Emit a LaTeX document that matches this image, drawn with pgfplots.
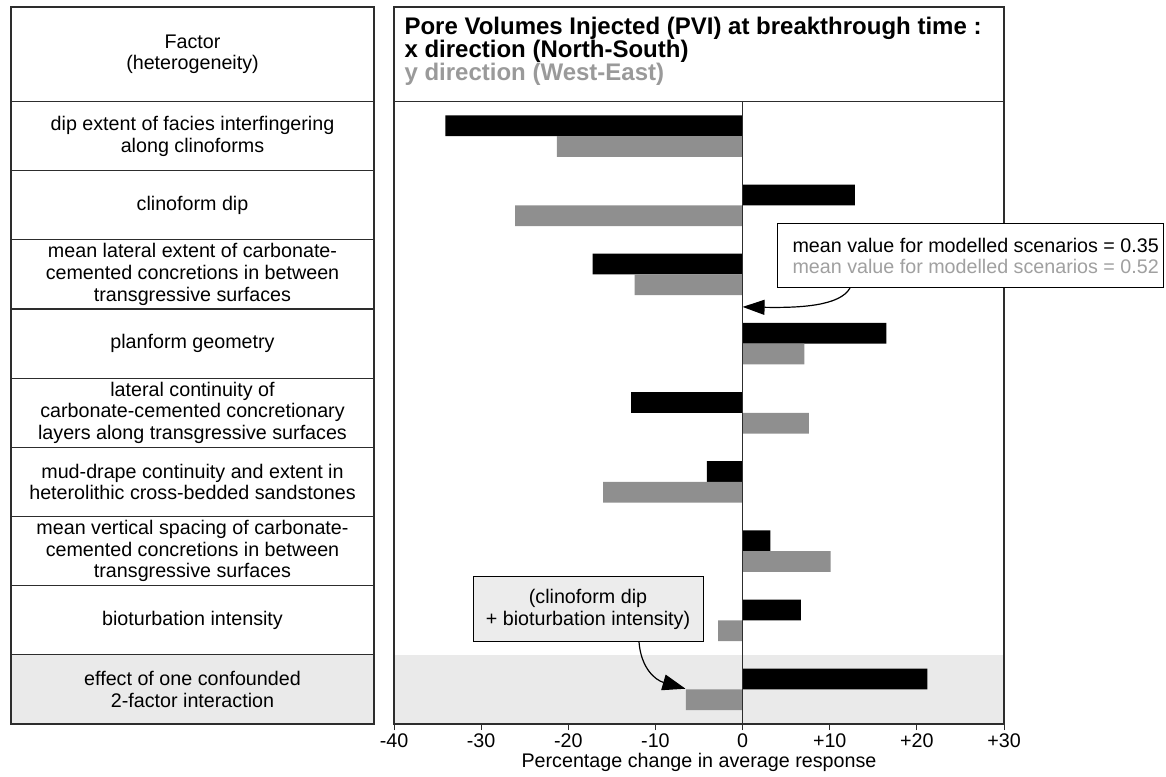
\documentclass[border=0pt]{standalone}
\usepackage{fontspec}
\setmainfont{Liberation Sans}
\usepackage{pgfplots}
\pgfplotsset{compat=1.18}
\usetikzlibrary{arrows.meta}
\definecolor{bargray}{RGB}{143,143,143}
\definecolor{titlegray}{RGB}{154,154,154}
\definecolor{meangray}{RGB}{160,160,160}
\definecolor{bandgray}{RGB}{234,234,234}
\definecolor{boxgray}{RGB}{236,236,236}
\definecolor{linegray}{RGB}{45,45,45}
\newcommand{\fs}{\fontsize{19.7}{21.7}\selectfont}
\begin{document}
\begin{tikzpicture}[x=1pt,y=1pt,font=\fs]
\path[use as bounding box] (0,0) rectangle (1166,776);
% ---- left table ----
\fill[bandgray] (11,52) rectangle (374,121.17);
\draw[linegray, line width=1.1pt] (11,52) rectangle (374,769);
\foreach \k in {0,...,8} \draw[linegray, line width=1.1pt] (11,{674.5-\k*69.17}) -- (374,{674.5-\k*69.17});
\node[align=center] at (192.5,721.75) {Factor\\(heterogeneity)};
\node[align=center] at (192.5,{674.5-0.5*69.17}) {dip extent of facies interfingering\\along clinoforms};
\node[align=center] at (192.5,{674.5-1.5*69.17}) {clinoform dip};
\node[align=center] at (192.5,{674.5-2.5*69.17}) {mean lateral extent of carbonate-\\cemented concretions in between\\transgressive surfaces};
\node[align=center] at (192.5,{674.5-3.5*69.17}) {planform geometry};
\node[align=center] at (192.5,{674.5-4.5*69.17}) {lateral continuity of\\carbonate-cemented concretionary\\layers along transgressive surfaces};
\node[align=center] at (192.5,{674.5-5.5*69.17}) {mud-drape continuity and extent in\\heterolithic cross-bedded sandstones};
\node[align=center] at (192.5,{674.5-6.5*69.17}) {mean vertical spacing of carbonate-\\cemented concretions in between\\transgressive surfaces};
\node[align=center] at (192.5,{674.5-7.5*69.17}) {bioturbation intensity};
\node[align=center] at (192.5,{674.5-8.5*69.17}) {effect of one confounded\\2-factor interaction};
% ---- title box ----
\draw[linegray, line width=1.1pt] (394,674.5) -- (394,769) -- (1004,769) -- (1004,674.5);
\node[anchor=base west, font=\fontsize{24}{23}\selectfont\bfseries] at (401,741) {Pore Volumes Injected (PVI) at breakthrough time :};
\node[anchor=base west, font=\fontsize{24}{23}\selectfont\bfseries] at (401,718) {x direction (North-South)};
\node[anchor=base west, font=\fontsize{24}{23}\selectfont\bfseries, text=titlegray] at (401,695) {y direction (West-East)};
% ---- chart ----
\begin{axis}[
  at={(394pt,52pt)}, anchor=south west, scale only axis,
  width=610pt, height=622.5pt,
  xmin=-40, xmax=30, ymin=0, ymax=9, y dir=reverse,
  axis on top,
  axis line style={linegray, line width=1.1pt},
  xtick={-40,-30,-20,-10,0,10,20,30},
  xticklabels={-40,-30,-20,-10,0,+10,+20,+30},
  ytick=\empty, xtick pos=bottom, tick align=outside,
  major tick length=6pt, tick style={linegray, line width=1pt},
  ticklabel style={font=\fs},
  xlabel={Percentage change in average response},
  xlabel style={font=\fs, yshift=1pt},
]
\addplot[fill=bandgray, draw=none] coordinates {(-40,8) (30,8) (30,9) (-40,9)} -- cycle;
% x direction (North-South)
\addplot[xbar, bar width=0.3, bar shift=0pt, fill=black, draw=none] coordinates {
 (-34.1,0.35) (12.9,1.35) (-17.2,2.35) (16.5,3.35) (-12.8,4.35) (-4.1,5.35) (3.2,6.35) (6.7,7.35) (21.2,8.35)};
% y direction (West-East)
\addplot[xbar, bar width=0.3, bar shift=0pt, fill=bargray, draw=none] coordinates {
 (-21.3,0.65) (-26.1,1.65) (-12.4,2.65) (7.1,3.65) (7.6,4.65) (-16.0,5.65) (10.1,6.65) (-2.8,7.65) (-6.5,8.65)};
\addplot[linegray, line width=1pt] coordinates {(0,0) (0,9)};
\coordinate (tipA) at (axis cs:0,2.97);
\coordinate (tipB) at (axis cs:-6.55,8.49);
\end{axis}
% ---- annotations ----
\draw[black, line width=1pt, fill=white] (777,488) rectangle (1163,552);
\node[anchor=west, align=left] at (789,520) {mean value for modelled scenarios = 0.35\\\textcolor{meangray}{mean value for modelled scenarios = 0.52}};
\draw[black, line width=1.2pt, -{Triangle[length=22pt,width=15pt]}] (850,488) .. controls (840,470) and (800,468) .. (tipA);
\draw[black, line width=1pt, fill=boxgray] (473,134) rectangle (703,199);
\node[align=center] at (588,166.5) {(clinoform dip\\+ bioturbation intensity)};
\draw[black, line width=1.2pt, -{Triangle[length=23pt,width=16pt]}] (639,134) .. controls (641,108) and (655,96) .. (tipB);
\end{tikzpicture}
\end{document}
